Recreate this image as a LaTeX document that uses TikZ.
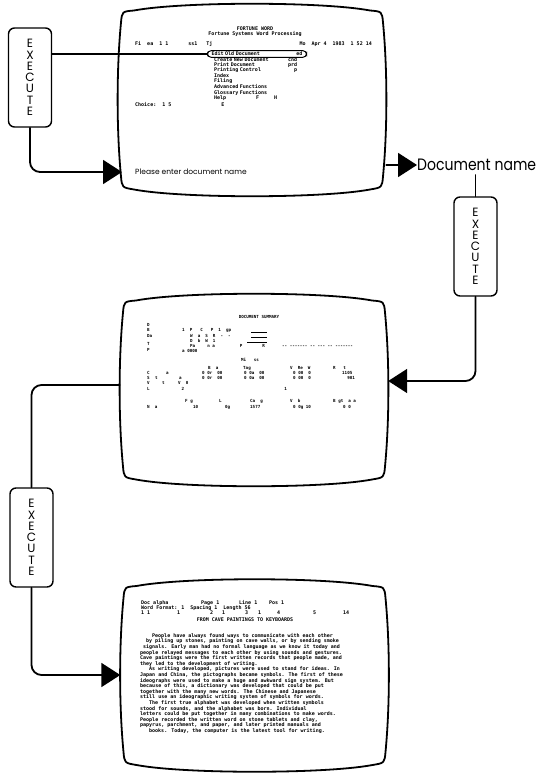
\documentclass[tikz,border=0pt]{standalone}
\usepackage{fontspec}
\setmainfont{Poppins}
\newfontfamily\schirmfont{DejaVu Sans Mono}
\usepackage{tikz}
\usetikzlibrary{arrows.meta,positioning,calc}
%Spalte fester Breite fuer die Bildschirmtexte
\newcommand\spalte[2]{\makebox[#1pt][l]{#2}}
%Umriss einer Bildroehre um einen Knoten
\newcommand\roehre[1]{%
  \draw[rahmen,shift={(#1.center)}] (-118,-89) .. controls (-70,-98) and (70,-98) .. (118,-89)
    .. controls (130,-88) .. (131,-77) .. controls (135.5,-30) and (135.5,30) .. (131,77)
    .. controls (130,88) .. (118,90) .. controls (70,99) and (-70,99) .. (-118,90)
    .. controls (-130,88) .. (-131,77) .. controls (-135.5,30) and (-135.5,-30) .. (-131,-77)
    .. controls (-130,-88) .. (-118,-89) -- cycle;}
\tikzset{
  linie/.style={line width=1.8pt,line cap=round,rounded corners=10pt},
  pfeil/.style={linie,-{Triangle[length=19pt,width=24pt]}},
  taste/.style={draw,line width=1.4pt,rounded corners=6pt,minimum width=43pt,minimum height=99pt,
    inner sep=0pt,align=center,font=\fontsize{12}{11.3}\selectfont},
  schirm/.style={minimum width=268pt,minimum height=194pt,inner sep=0pt},
  rahmen/.style={line width=1.8pt,line join=round},
  stext/.style={inner sep=0pt,align=left,font=\schirmfont\bfseries\fontsize{5}{5.2}\selectfont},
  klein/.style={font=\schirmfont\bfseries\fontsize{4.2}{5.2}\selectfont},
}
\begin{document}
\begin{tikzpicture}[x=1pt,y=-1pt]
\useasboundingbox (0,0) rectangle (548,773);
%Bildschirme
\foreach \n/\x/\y in {1/252/99.5,2/254/389.5,3/254.5/675}{
  \node[schirm] (scr\n) at (\x,\y) {};
  \roehre{scr\n}
}
%EXECUTE-Tasten
\foreach \n/\x/\y in {1/30/77.5,2/475.5/246.5,3/31.5/537.5}{
  \node[taste] (exe\n) at (\x,\y) {E\\X\\E\\C\\U\\T\\E};
}
%Bildschirm 1: Menue
\node[stext,align=center] (s1titel) at (255,31.5) {FORTUNE WORD\\Fortune Systems Word Processing};
\node[stext,anchor=west] (s1kopf) at (135,44) {Fi\ \ ea\ \ 1 1\hspace{20pt}ss1\hspace{9pt}Tj};
\node[stext,anchor=east] (s1datum) at (372,44) {Mo\ \ Apr 4\ \ 1983\ \ 1 52 14};
\node[stext,draw,line width=1pt,rounded corners=3.5pt,anchor=west,text width=91pt,inner xsep=4pt,inner ysep=1.2pt] (edit) at (207,54) {Edit Old Document\hfill ed};
\node[stext,anchor=north west,text width=83pt] (s1menue) at (214,57.5) {Create New Document\hfill cnd\\Print Document\hfill prd\\Printing Control\hfill p\\Index\\Filing\\[1.5pt]Advanced Functions\\Glossary Functions\\Help\hspace{30pt}F\hspace{15pt}H};
\node[stext,anchor=west] (s1wahl) at (135,105) {Choice:\ \ 1 5\hspace{50pt}E};
\node[anchor=west,inner sep=0pt,font=\fontsize{7.5}{9}\selectfont] (prompt) at (135,172) {Please enter document name};
\node[anchor=west,inner sep=0pt,font=\fontsize{16.5}{20}\selectfont] (docname) at (417,165) {\scalebox{0.85}[1]{Document name}};
%Bildschirm 2: Uebersicht
\node[stext,klein] (s2titel) at (259,317) {DOCUMENT SUMMARY};
\node[stext,klein,anchor=north west] (s2links) at (147,323.5) {D\\B\\Da\\[3.5pt]T\\P};
\node[stext,klein,anchor=north west] (s2info) at (182,328.5) {1\ \ P\hspace{8pt}C\hspace{8pt}P\ \ 1\ \ gp\\\hspace{8pt}W\ \ a\ \ S\ \ R\ \ -\ \ -\\\hspace{8pt}D\ \ b\ \ W\ \ 1\\\hspace{8pt}Pa\hspace{12pt}n a\hspace{25pt}P\hspace{20pt}R\\a 0000};
\draw[line width=.5pt] (251,332) -- (267,332) (251,337) -- (267,337);
\draw[line width=1pt] (247,342) -- (267,342);
\node[stext,klein,anchor=west] (s2notiz) at (282,347) {-- ------- -- --- -- -------};
\node[stext,klein] (s2mitte) at (250,360) {Mi\ \ \ ss};
\node[stext,klein,anchor=north west] (s2tabelle) at (147,366) {\spalte{61}{}\spalte{35}{B\ \ a}\spalte{47}{Tag}\spalte{43}{V\ \ Re\ \ W}R\ \ \ t\\
\spalte{19}{C}\spalte{36}{a}\spalte{42}{0 0r\ \ 00}\spalte{49}{0 0a\ \ 00}\spalte{49}{0 00\ \ 0}1105\\
\spalte{8}{S}\spalte{24}{t}\spalte{23}{a}\spalte{42}{0 0r\ \ 00}\spalte{49}{0 0a\ \ 00}\spalte{49}{0 00\ \ 0}\ \ 901\\
\spalte{15}{V}\spalte{16}{t}V\ \ 0\\
L\hspace{32pt}2\hspace{100pt}1};
\node[stext,klein,anchor=north west] (s2fuss) at (147,399.5) {\spalte{38}{}\spalte{34}{F g}\spalte{31}{L}\spalte{40}{Ca\ \ g}\spalte{43}{V\ \ b}B gt\ \ a a\\\spalte{46}{N\ \ a}\spalte{32}{10}\spalte{25}{0g}\spalte{43}{1577}\spalte{50}{0 0g 10}0 0};
%Bildschirm 3: Text
\node[stext,anchor=north west] (s3kopf) at (141,600) {\spalte{60}{Doc alpha}\spalte{38}{Page 1}\spalte{30}{Line 1}Pos 1\\Word Format: 1\ \ Spacing 1\ \ Length 56\\\spalte{36}{1 1}\spalte{33}{1}\spalte{12}{2}\spalte{23}{1}\spalte{13}{3}\spalte{19}{1}\spalte{36}{4}\spalte{30}{5}14};
\node[stext] (s3titel) at (245,620) {FROM CAVE PAINTINGS TO KEYBOARDS};
\node[stext,anchor=north west,font=\schirmfont\bfseries\fontsize{5}{5.6}\selectfont] (s3text) at (140,633) {%
\hspace{12pt}People have always found ways to communicate with each other\\
\hspace{6pt}by piling up stones, painting on cave walls, or by sending smoke\\
\hspace{3pt}signals. Early man had no formal language as we know it today and\\
people relayed messages to each other by using sounds and gestures.\\
Cave paintings were the first written records that people made, and\\
they led to the development of writing.\\
\hspace{9pt}As writing developed, pictures were used to stand for ideas. In\\
Japan and China, the pictographs became symbols. The first of these\\
ideographs were used to make a huge and awkward sign system. But\\
because of this, a dictionary was developed that could be put\\
together with the many new words. The Chinese and Japanese\\
still use an ideographic writing system of symbols for words.\\
\hspace{9pt}The first true alphabet was developed when written symbols\\
stood for sounds, and the alphabet was born. Individual\\
letters could be put together in many combinations to make words.\\
People recorded the written word on stone tablets and clay,\\
papyrus, parchment, and paper, and later printed manuals and\\
\hspace{9pt}books. Today, the computer is the latest tool for writing.};
%Verbindungen
\draw[linie] (exe1.east |- edit.west) -- (edit.west);
\draw[pfeil,shorten >=13pt] (exe1.south) |- (prompt.west);
\draw[pfeil] (scr1.east |- docname.west) -- (docname.west);
\draw[linie,shorten <=4pt] (exe2.north |- docname.south) -- (exe2.north);
\draw[pfeil] (exe2.south) |- ([yshift=8.5pt]scr2.east);
\draw[linie] ([yshift=4.5pt]scr2.west) -| (exe3.north);
\draw[pfeil] (exe3.south) |- (scr3.west);
\end{tikzpicture}
\end{document}
